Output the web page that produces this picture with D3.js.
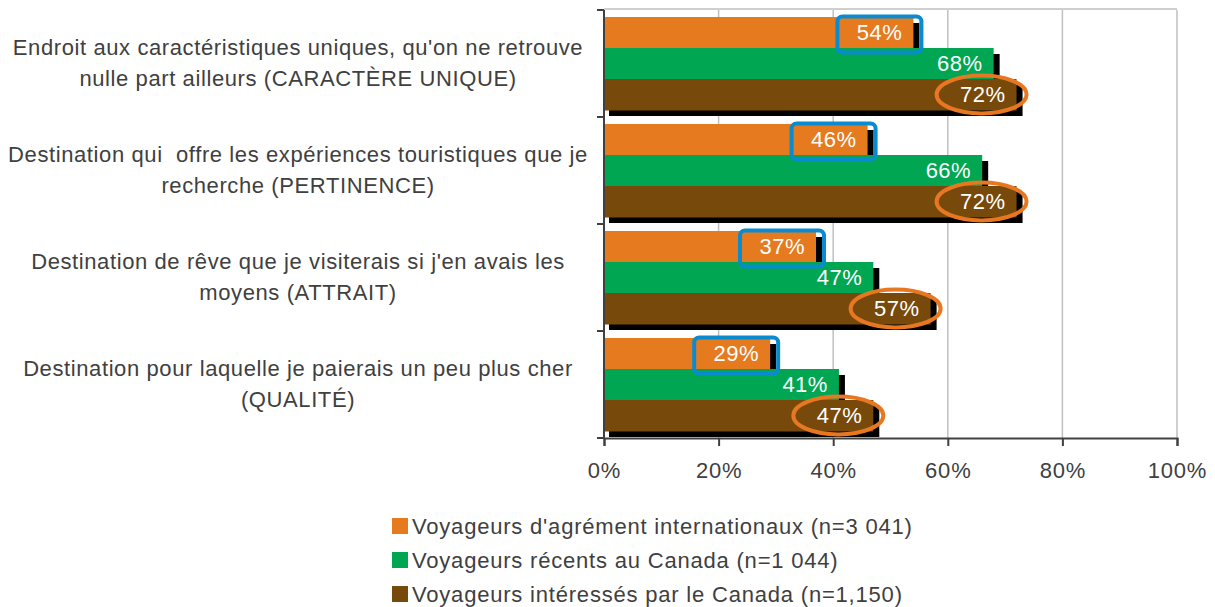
<!DOCTYPE html>
<html>
<head>
<meta charset="utf-8">
<script src="https://cdn.jsdelivr.net/npm/d3@7"></script>
<style>
  body { margin: 0; background: #fff; }
  text { font-family: "Liberation Sans", Arial, sans-serif; }
</style>
</head>
<body>
<div id="chart"></div>
<script>
// categories, each split on two lines like the original
const categories = [
    ["Endroit aux caractéristiques uniques, qu'on ne retrouve", "nulle part ailleurs (CARACTÈRE UNIQUE)"],
    ["Destination qui  offre les expériences touristiques que je", "recherche (PERTINENCE)"],
    ["Destination de rêve que je visiterais si j'en avais les", "moyens (ATTRAIT)"],
    ["Destination pour laquelle je paierais un peu plus cher", "(QUALITÉ)"]
];
const seriesNames = [
    "Voyageurs d'agrément internationaux (n=3 041)",
    "Voyageurs récents au Canada (n=1 044)",
    "Voyageurs intéressés par le Canada (n=1,150)"
];
const international = [54, 46, 37, 29];
const recents = [68, 66, 47, 41];
const interesses = [72, 72, 57, 47];
const tickValues = [0, 20, 40, 60, 80, 100];

const colors = ["#e57a1f", "#00a651", "#774a0b"];
const TEXT_COLOR = "#404040";
const BOX_BLUE = "#0a8bd0";
const RING_ORANGE = "#e87722";

var width = 1215, height = 607;
var plotLeft = 604, plotRight = 1177, plotTop = 10, plotBottom = 438;

var svg = d3.select("#chart").append("svg")
    .attr("width", width)
    .attr("height", height)
    .style("display", "block");

var x = d3.scaleLinear().domain([0, 100]).range([plotLeft, plotRight]);
var y = d3.scaleBand().domain(d3.range(categories.length)).range([plotTop, plotBottom]);
var ySeries = d3.scaleBand().domain([0, 1, 2]).range([7, y.bandwidth() - 7]);

// grid
svg.append("g").selectAll("line")
    .data(tickValues.slice(1))
    .enter().append("line")
    .attr("x1", d => x(d)).attr("x2", d => x(d))
    .attr("y1", plotTop).attr("y2", plotBottom)
    .attr("stroke", "#bfbfbf").attr("stroke-width", 1.5);
svg.append("line")
    .attr("x1", plotLeft).attr("x2", plotRight)
    .attr("y1", plotTop - 1).attr("y2", plotTop - 1)
    .attr("stroke", "#bfbfbf").attr("stroke-width", 1.5);

var series = [international, recents, interesses];
var bars = [];
series.forEach((vals, s) => {
    vals.forEach((v, i) => bars.push({ s: s, i: i, v: v }));
});

// shadows first, then bars on top
svg.append("g").selectAll("rect")
    .data(bars)
    .enter().append("rect")
    .attr("x", plotLeft + 5)
    .attr("y", d => y(d.i) + ySeries(d.s) + 6)
    .attr("width", d => x(d.v) - plotLeft + 1)
    .attr("height", ySeries.bandwidth())
    .attr("fill", "#000");

svg.append("g").selectAll("rect")
    .data(bars)
    .enter().append("rect")
    .attr("x", plotLeft)
    .attr("y", d => y(d.i) + ySeries(d.s))
    .attr("width", d => x(d.v) - plotLeft)
    .attr("height", ySeries.bandwidth() + 0.5)
    .attr("fill", d => colors[d.s]);

svg.append("g").selectAll("text")
    .data(bars)
    .enter().append("text")
    .attr("x", d => x(d.v) - 11)
    .attr("y", d => y(d.i) + ySeries(d.s) + ySeries.bandwidth() / 2)
    .attr("dy", "0.36em")
    .attr("text-anchor", "end")
    .attr("fill", "#fff")
    .style("font-size", "22px")
    .style("letter-spacing", "0.5px")
    .text(d => d.v + "%");

// highlight marks: blue boxes on first series, orange rings on last
svg.append("g").selectAll("rect")
    .data(bars.filter(d => d.s === 0))
    .enter().append("rect")
    .attr("x", d => x(d.v) - 34 - 42)
    .attr("y", d => y(d.i) + ySeries(d.s) + ySeries.bandwidth() / 2 + 2 - 18)
    .attr("width", 84).attr("height", 36)
    .attr("rx", 5)
    .attr("fill", "none")
    .attr("stroke", BOX_BLUE).attr("stroke-width", 4);

svg.append("g").selectAll("ellipse")
    .data(bars.filter(d => d.s === 2))
    .enter().append("ellipse")
    .attr("cx", d => x(d.v) - 35)
    .attr("cy", d => y(d.i) + ySeries(d.s) + ySeries.bandwidth() / 2)
    .attr("rx", 45).attr("ry", 19)
    .attr("fill", "none")
    .attr("stroke", RING_ORANGE).attr("stroke-width", 4);

// axes
svg.append("g")
    .attr("transform", "translate(0," + plotBottom + ")")
    .call(d3.axisBottom(x).tickValues(tickValues).tickFormat(d => d + "%").tickSizeOuter(0).tickSize(8).tickPadding(16))
    .call(g => g.selectAll("line, path").attr("stroke", TEXT_COLOR).attr("stroke-width", 2))
    .call(g => g.selectAll("text").attr("fill", TEXT_COLOR)
        .style("font-size", "22px").style("letter-spacing", "0.8px").attr("font-family", null));

var yAxis = svg.append("g");
yAxis.append("line")
    .attr("x1", plotLeft).attr("x2", plotLeft)
    .attr("y1", plotTop).attr("y2", plotBottom)
    .attr("stroke", TEXT_COLOR).attr("stroke-width", 2);
yAxis.selectAll(".tick")
    .data(d3.range(categories.length + 1))
    .enter().append("line")
    .attr("x1", plotLeft - 7).attr("x2", plotLeft)
    .attr("y1", d => plotTop + d * y.step()).attr("y2", d => plotTop + d * y.step())
    .attr("stroke", TEXT_COLOR).attr("stroke-width", 2);

var catLabel = svg.append("g").selectAll("text")
    .data(categories)
    .enter().append("text")
    .attr("text-anchor", "middle")
    .attr("fill", TEXT_COLOR)
    .style("font-size", "22px")
    .style("letter-spacing", "0.6px")
    .style("white-space", "pre");
catLabel.each(function (lines, i) {
    var cy = y(i) + y.bandwidth() / 2;
    d3.select(this).selectAll("tspan")
        .data(lines)
        .enter().append("tspan")
        .attr("x", 298)
        .attr("y", (d, k) => cy - 16 + k * 31)
        .attr("dy", "0.36em")
        .text(d => d);
});

// legend
var legend = svg.append("g").selectAll("g")
    .data(seriesNames)
    .enter().append("g")
    .attr("transform", (d, i) => "translate(392," + (518 + i * 34) + ")");
legend.append("rect")
    .attr("width", 16).attr("height", 16)
    .attr("fill", (d, i) => colors[i]);
legend.append("text")
    .attr("x", 20).attr("y", 8)
    .attr("dy", "0.36em")
    .attr("fill", TEXT_COLOR)
    .style("font-size", "22px")
    .style("letter-spacing", "0.8px")
    .text(d => d);
</script>
</body>
</html>
